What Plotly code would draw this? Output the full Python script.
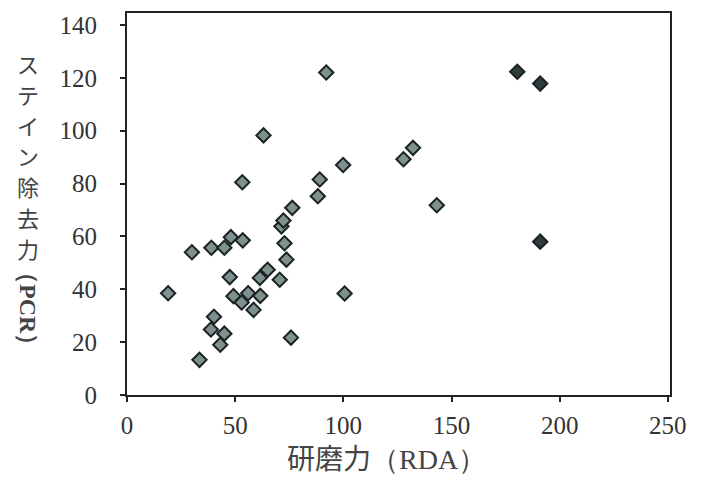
import plotly.graph_objects as go

rda = [19, 30, 39, 45, 48, 53.5, 47.5, 49.2, 53, 56, 58.5, 61.6, 61.4, 65, 70.6,
       73.7, 72.8, 71.4, 72.3, 76.4, 75.8, 40.2, 38.8, 45, 43.1, 33.5, 100.6,
       143.2, 191, 53.3, 88.2, 89.1, 92.1, 180.4, 191, 63.1, 132.2, 127.8, 99.9]
pcr = [38.5, 54, 55.7, 55.7, 59.7, 58.5, 44.6, 37.4, 35, 38.5, 32.2, 37.5, 44.3,
       47.4, 43.6, 51.2, 57.4, 63.8, 66, 70.8, 21.7, 29.6, 24.8, 23.2, 19, 13.3,
       38.4, 71.8, 58, 80.5, 75.2, 81.5, 122, 122.3, 117.8, 98.2, 93.5, 89.2, 87]

x_ticks = [0, 50, 100, 150, 200, 250]
y_ticks = [0, 20, 40, 60, 80, 100, 120, 140]
x_title_jp = "研磨力"
x_title_en = "（RDA）"
y_title_jp = "ステイン除去力"
y_title_en = "（PCR）"

fill = ["#2f3d3f" if v > 170 else "#7e918e" for v in rda]

W, H = 701, 479
L, R, T, B = 127, 31, 13, 84
pw, ph = W - L - R, H - T - B


def px_x(px):
    return (px - L) / pw


def px_y(py):
    return (H - B - py) / ph


fig = go.Figure()
fig.add_trace(go.Scatter(
    x=rda, y=pcr, mode="markers",
    marker=dict(symbol="diamond", size=11, color=fill,
                line=dict(color="#1a2222", width=2)),
    showlegend=False, hoverinfo="x+y"))

serif = "Liberation Serif"
jp = "Noto Sans CJK JP"

fig.update_layout(
    width=W, height=H,
    margin=dict(l=L, r=R, t=T, b=B),
    plot_bgcolor="white", paper_bgcolor="white",
    xaxis=dict(range=[0, 251], tickvals=x_ticks, showgrid=False, zeroline=False,
               showline=True, mirror=True, linecolor="#222", linewidth=2,
               ticks="outside", ticklen=5, tickwidth=2, tickcolor="#222",
               tickfont=dict(family=serif, size=25, color="#333"),
               ticklabelstandoff=2, automargin=False),
    yaxis=dict(range=[0, 144.5], tickvals=y_ticks, showgrid=False, zeroline=False,
               showline=True, mirror=True, linecolor="#222", linewidth=2,
               ticks="outside", ticklen=5, tickwidth=2, tickcolor="#222",
               tickfont=dict(family=serif, size=25, color="#333"),
               ticklabelstandoff=18, automargin=False),
)

fig.add_annotation(
    xref="paper", yref="paper", x=px_x(386), y=px_y(457),
    xanchor="center", yanchor="middle",
    text=x_title_jp + "<span style='font-family:Liberation Serif'>" + x_title_en + "</span>",
    showarrow=False, font=dict(family=jp, size=28, color="#444"))

for i, ch in enumerate(y_title_jp):
    fig.add_annotation(
        xref="paper", yref="paper", x=px_x(28), y=px_y(63 + 30.8 * i),
        xanchor="center", yanchor="middle", text=ch, showarrow=False,
        font=dict(family=jp, size=22, color="#444"))

fig.add_annotation(
    xref="paper", yref="paper", x=px_x(28), y=px_y(308),
    xanchor="center", yanchor="middle",
    text="<b>" + y_title_en + "</b>", textangle=90,
    showarrow=False, font=dict(family=serif, size=24, color="#444"))

fig.write_html("out.html", config={"displayModeBar": False},
               post_script="document.body.style.margin='0';")
